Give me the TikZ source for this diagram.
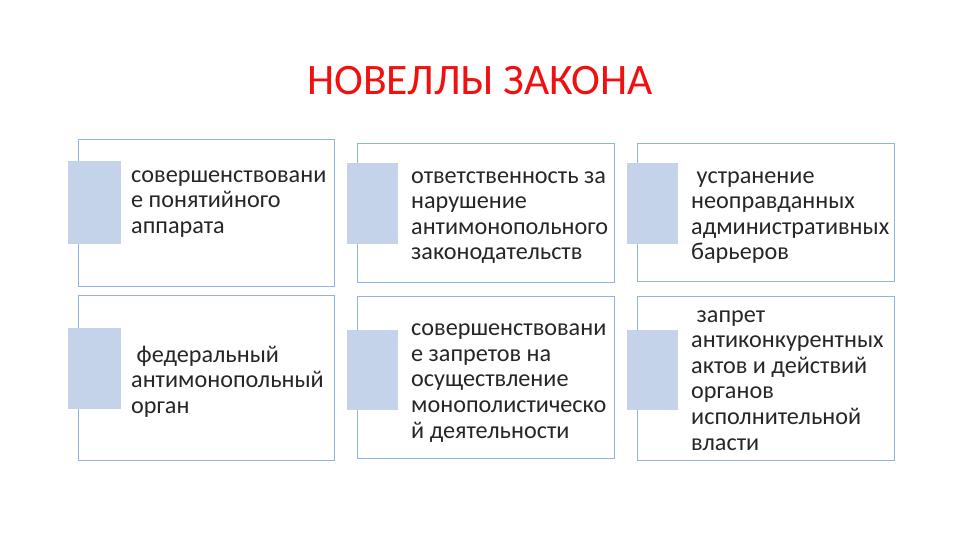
\documentclass[tikz,border=0pt]{standalone}
\usepackage{fontspec}
\setmainfont{Carlito}
\begin{document}
\begin{tikzpicture}[x=1pt,y=-1pt,
 box/.style={draw=bxline,line width=0.8pt},
 sq/.style={fill=sqfill,draw=none},
 txt/.style={anchor=base west,align=left,inner sep=0pt,font=\fontsize{24.2}{25.6}\selectfont,text=black!85}]
\definecolor{bxline}{HTML}{8FB4DE}
\definecolor{sqfill}{HTML}{C5D3EA}
\definecolor{ttl}{HTML}{F01010}
\useasboundingbox (0,0) rectangle (960,540);
\node[text=ttl,font=\fontsize{43.5}{46}\selectfont] (title) at (480,81) {НОВЕЛЛЫ ЗАКОНА};
\draw[box] (78,139) rectangle (334,286) coordinate (b1);
\draw[box] (357,143) rectangle (614,282) coordinate (b2);
\draw[box] (637,143) rectangle (894,281) coordinate (b3);
\draw[box] (78,295) rectangle (334,460) coordinate (b4);
\draw[box] (357,296) rectangle (614,458) coordinate (b5);
\draw[box] (637,296) rectangle (894,460) coordinate (b6);
\fill[sq] (68,161) rectangle (121,244);
\fill[sq] (347,163) rectangle (398,244);
\fill[sq] (627,163) rectangle (678,244);
\fill[sq] (68,328) rectangle (121,409);
\fill[sq] (347,330) rectangle (398,410);
\fill[sq] (627,330) rectangle (678,410);
\node[txt] (t1) at (131,233.2) {совершенствовани\\е понятийного\\аппарата};
\node[txt] (t2) at (411,259.8) {ответственность за\\нарушение\\антимонопольного\\законодательств};
\node[txt] (t3) at (691,259.8) {\ устранение\\неоправданных\\административных\\барьеров};
\node[txt] (t4) at (131,413.2) {\ федеральный\\антимонопольный\\орган};
\node[txt] (t5) at (411,438) {совершенствовани\\е запретов на\\осуществление\\монополистическо\\й деятельности};
\node[txt] (t6) at (691,450) {\ запрет\\антиконкурентных\\актов и действий\\органов\\исполнительной\\власти};
\end{tikzpicture}
\end{document}
